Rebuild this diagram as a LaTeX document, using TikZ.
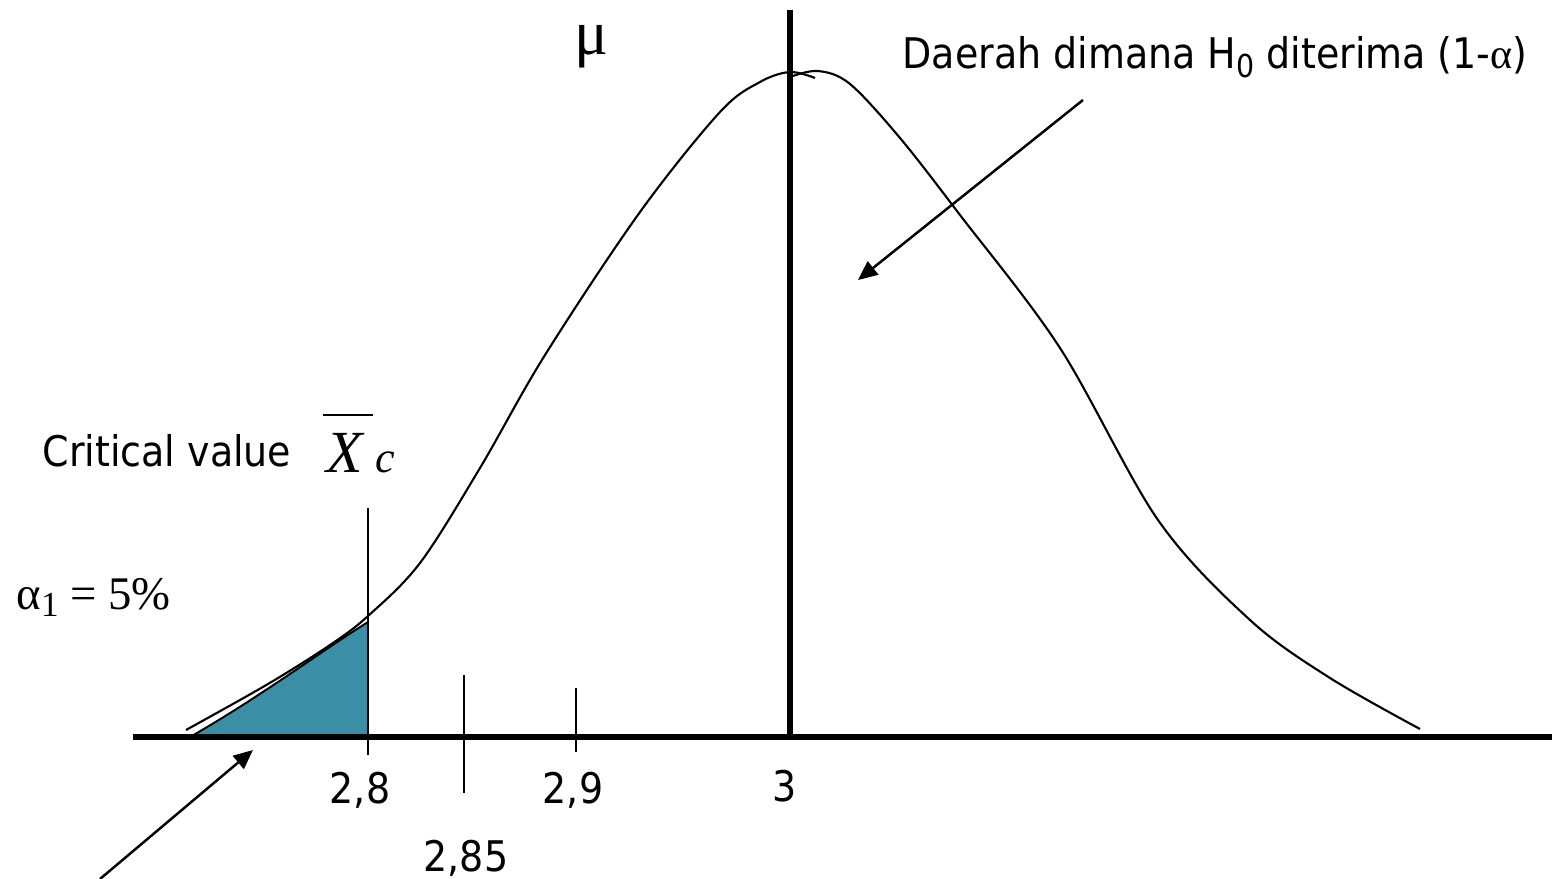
\documentclass[tikz,border=0pt]{standalone}
\usepackage{fontspec}
\setmainfont{DejaVu Sans Condensed}
\newfontfamily\tms{Liberation Serif}
\usetikzlibrary{arrows.meta}
\definecolor{rejc}{RGB}{58,143,166}
\tikzset{
  lbl/.style={inner sep=0pt,font=\fontsize{12}{14}\selectfont},
  tlbl/.style={inner sep=0pt,font=\tms\fontsize{13.3}{15}\selectfont},
  axis/.style={line width=1.7pt,black},
  mean/.style={line width=1.7pt,black},
  curve/.style={line width=0.6pt,black},
  tick/.style={line width=0.55pt,black},
  pointer/.style={-{Triangle[length=5.5pt,width=4.8pt]},line width=0.7pt,black},
}
\begin{document}
\begin{tikzpicture}[x=0.01cm,y=-0.01cm]
  \useasboundingbox (0,0) rectangle (1557,879);
  % rejection area (alpha)
  \filldraw[fill=rejc,draw=black,line width=0.55pt]
    (190,737) .. controls (260,697) and (320,652) .. (368,622) -- (368,737) -- cycle;
  % axis and mean
  \coordinate (ax0) at (133,737); \coordinate (ax1) at (1552,737);
  \coordinate (mtop) at (790,10); \coordinate (mbot) at (790,737);
  \draw[axis] (ax0)--(ax1);
  \draw[mean] (mtop)--(mbot);
  % density curve, two halves
  \draw[curve] plot[smooth,tension=0.55] coordinates
    {(186,730) (268,684) (330,645) (368,616) (420,563) (480,468) (545,355)
     (640,212) (720,112) (760,82) (790,72) (815,78)};
  \draw[curve] plot[smooth,tension=0.55] coordinates
    {(790,77) (818,71) (850,84) (900,138) (960,215) (1060,348) (1158,520)
     (1250,620) (1330,678) (1420,729)};
  % ticks
  \coordinate (c1) at (368,508); \coordinate (c2) at (368,755);
  \coordinate (t1) at (464,675); \coordinate (t2) at (464,793);
  \coordinate (u1) at (576,688); \coordinate (u2) at (576,752);
  \draw[tick] (c1)--(c2); \draw[tick] (t1)--(t2); \draw[tick] (u1)--(u2);
  % labels
  \node[lbl] (l28) at (360,790) {2,8};
  \node[lbl] (l29) at (573,790) {2,9};
  \node[lbl] (l3) at (785,786) {3};
  \node[lbl] (l285) at (466,858) {2,85};
  \node[inner sep=0pt,font=\tms\fontsize{18}{20}\selectfont] (mu) at (591,47) {μ};
  \node[lbl] (crit) at (167,451) {Critical value};
  \node[inner sep=0pt,anchor=base west] (xc) at (322,472)
    {\rlap{\rule[16pt]{14.2pt}{0.6pt}}\hspace{1.1pt}%
     {\tms\itshape\fontsize{17}{18}\selectfont X}\hspace{3.5pt}%
     {\tms\itshape\fontsize{12.5}{13}\selectfont c}};
  \node[tlbl,anchor=base west] (alpha) at (16,609) {α\raisebox{-0.35ex}{\fontsize{10}{10}\selectfont 1} = 5\%};
  \node[lbl] (accept) at (1215,57)
    {Daerah dimana H\raisebox{-0.4ex}{\fontsize{9}{9}\selectfont 0} diterima (1-{\tms α})};
  % pointers
  \coordinate (p1) at (1083,100); \coordinate (q1) at (858,280);
  \coordinate (p2) at (100,879); \coordinate (q2) at (253,750);
  \draw[pointer] (p1)--(q1);
  \draw[pointer] (p2)--(q2);
\end{tikzpicture}
\end{document}
